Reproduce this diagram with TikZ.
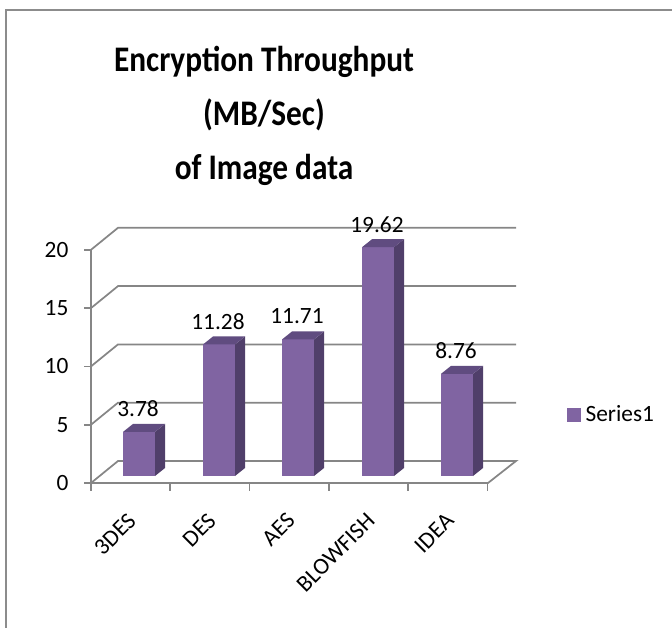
\documentclass[tikz,border=0pt]{standalone}
\usepackage{fontspec}
\setmainfont{Carlito}
\newfontfamily\titrefont[FakeStretch=0.87]{Carlito}
\definecolor{grille}{RGB}{134,134,134}
\definecolor{cadre}{RGB}{140,140,140}
\definecolor{face}{RGB}{128,100,162}
\definecolor{flanc}{RGB}{80,63,106}
\definecolor{dessus}{RGB}{96,76,128}

\begin{document}
\begin{tikzpicture}[x=0.75pt,y=-0.75pt]
\tikzstyle{ligne}=[draw=grille,line width=1.3pt]
\tikzset{texte/.style={font=\fontsize{17.5}{20}\selectfont,inner sep=1pt},
barre/.style={fill=#1},
barre/.default={face}}
\useasboundingbox (0,0) rectangle (672,628);

% cadre du graphique
\draw[draw=cadre,line width=1.5pt] (6,628) -- (6,10) -- (672,10);

% titre
\node[font=\titrefont\fontsize{27}{40.5}\selectfont\bfseries,align=center] (titre) at (264,116)
{Encryption Throughput\\(MB/Sec)\\of Image data};

% murs et sol
\foreach \v in {5,10,15,20}
\draw[ligne] (91,{483-11.66*\v}) -- ++(27,-22) -- (516,{461-11.66*\v});
\draw[ligne] (91,483) -- (118,461) -- (516,461) -- (488,483) -- cycle;
\draw[ligne] (91,483) -- (91,250);
\foreach \v in {0,5,10,15,20}{
\draw[ligne] (84,{483-11.66*\v}) -- (91,{483-11.66*\v});
\node[texte,anchor=east] (y\v) at (70,{483-11.66*\v}) {\v};
}
\foreach \i in {0,...,5}
\draw[ligne] ({91+79.3*\i},483) -- ({91+79.3*\i},491);

% barres
\foreach \x/\v/\n/\t in {123/3.78/a/3DES,203/11.28/b/DES,282/11.71/c/AES,362/19.62/d/BLOWFISH,441/8.76/e/IDEA}{
\pgfmathsetmacro{\h}{476-11.66*\v}
\fill[barre] (\x,476) rectangle (\x+32,\h);
\fill[barre=flanc] (\x+32,476) -- ++(10,-8) -- (\x+42,\h-8) -- (\x+32,\h) -- cycle;
\fill[barre=dessus] (\x,\h) -- (\x+10,\h-8) -- (\x+42,\h-8) -- (\x+32,\h) -- cycle;
\node[texte] (val\n) at (\x+15,\h-23) {\v};
\node[texte,rotate=45,anchor=east] (cat\n) at (\x+10,516) {\t};
}

% legende
\fill[barre] (567,408) rectangle (581,422);
\node[texte,anchor=west] (legende) at (584,414) {Series1};
\end{tikzpicture}
\end{document}
